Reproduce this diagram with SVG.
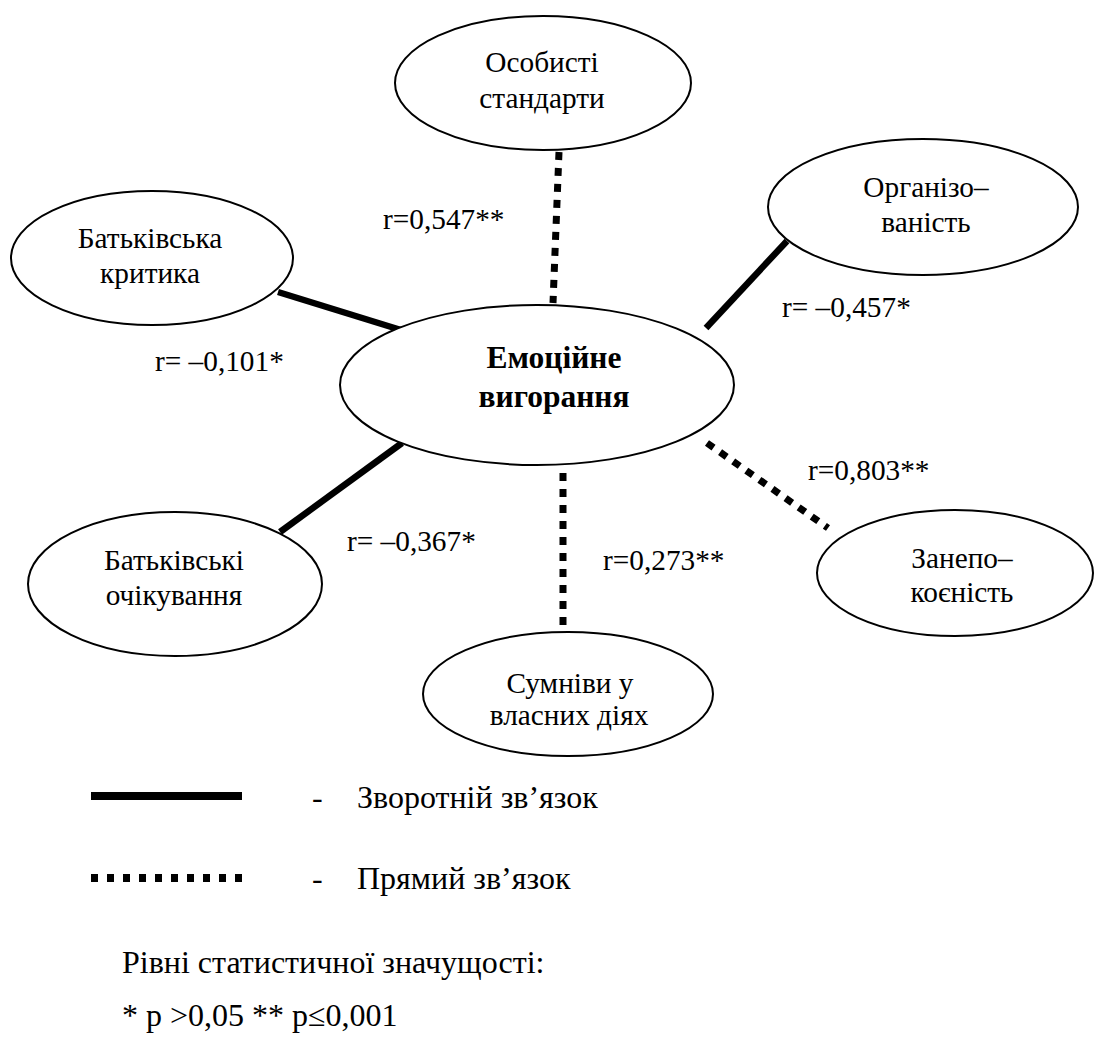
<svg xmlns="http://www.w3.org/2000/svg" width="1096" height="1044" viewBox="0 0 1096 1044">
<style>
.node{fill:#fff;stroke:#000;stroke-width:2}
.t{font-family:'Liberation Serif','Times New Roman',serif;font-size:29.3px;fill:#000}
.c{text-anchor:middle}
.b{font-weight:bold;font-size:31.5px}
.lg{font-size:32px}
.solid{stroke:#000;stroke-width:6.5;fill:none}
.dot{stroke:#000;stroke-width:7;stroke-dasharray:8 8;fill:none}
</style>
<rect width="1096" height="1044" fill="#fff"/>
<g id="connectors">
<line class="dot" x1="559" y1="152" x2="553" y2="303"/>
<line class="solid" x1="278" y1="292" x2="401" y2="330"/>
<line class="solid" x1="787" y1="241" x2="706" y2="328"/>
<line class="dot" x1="707" y1="443" x2="828" y2="528"/>
<line class="solid" x1="402" y1="443" x2="280" y2="532"/>
<line class="dot" x1="563" y1="473" x2="563" y2="625"/>
</g>
<g id="labels">
<text class="t" x="383" y="229">r=0,547**</text>
<text class="t" x="155" y="371">r= –0,101*</text>
<text class="t" x="782" y="317">r= –0,457*</text>
<text class="t" x="808" y="480">r=0,803**</text>
<text class="t" x="347" y="551">r= –0,367*</text>
<text class="t" x="603" y="570">r=0,273**</text>
</g>
<g id="node-center">
<ellipse class="node" cx="537" cy="385" rx="197" ry="80"/>
<text class="t c b" x="554" y="368">Емоційне</text>
<text class="t c b" x="554" y="407">вигорання</text>
</g>
<g id="node-standards">
<ellipse class="node" cx="543" cy="83" rx="148" ry="67"/>
<text class="t c" x="542" y="72">Особисті</text>
<text class="t c" x="542" y="108">стандарти</text>
</g>
<g id="node-criticism">
<ellipse class="node" cx="152" cy="258" rx="141" ry="67"/>
<text class="t c" x="150" y="248">Батьківська</text>
<text class="t c" x="150" y="283">критика</text>
</g>
<g id="node-organization">
<ellipse class="node" cx="923" cy="207" rx="155" ry="68"/>
<text class="t c" x="926" y="197">Організо–</text>
<text class="t c" x="926" y="232">ваність</text>
</g>
<g id="node-concern">
<ellipse class="node" cx="955" cy="573" rx="138" ry="63"/>
<text class="t c" x="962" y="568">Занепо–</text>
<text class="t c" x="962" y="602">коєність</text>
</g>
<g id="node-expectations">
<ellipse class="node" cx="175" cy="584" rx="147" ry="72"/>
<text class="t c" x="174" y="570">Батьківські</text>
<text class="t c" x="174" y="605">очікування</text>
</g>
<g id="node-doubts">
<ellipse class="node" cx="568" cy="694" rx="145" ry="62"/>
<text class="t c" x="570" y="693">Сумніви у</text>
<text class="t c" x="569" y="725">власних діях</text>
</g>
<g id="legend">
<line x1="91" y1="796" x2="242" y2="796" stroke="#000" stroke-width="8"/>
<line x1="91" y1="878" x2="245" y2="878" stroke="#000" stroke-width="8" stroke-dasharray="7 9"/>
<text class="t lg" x="312" y="808">-</text>
<text class="t lg" x="357" y="808">Зворотній зв’язок</text>
<text class="t lg" x="312" y="889">-</text>
<text class="t lg" x="357" y="889">Прямий зв’язок</text>
<text class="t lg" x="122" y="973">Рівні статистичної значущості:</text>
<text class="t lg" x="122" y="1026">* p &gt;0,05 ** p≤0,001</text>
</g>
</svg>
